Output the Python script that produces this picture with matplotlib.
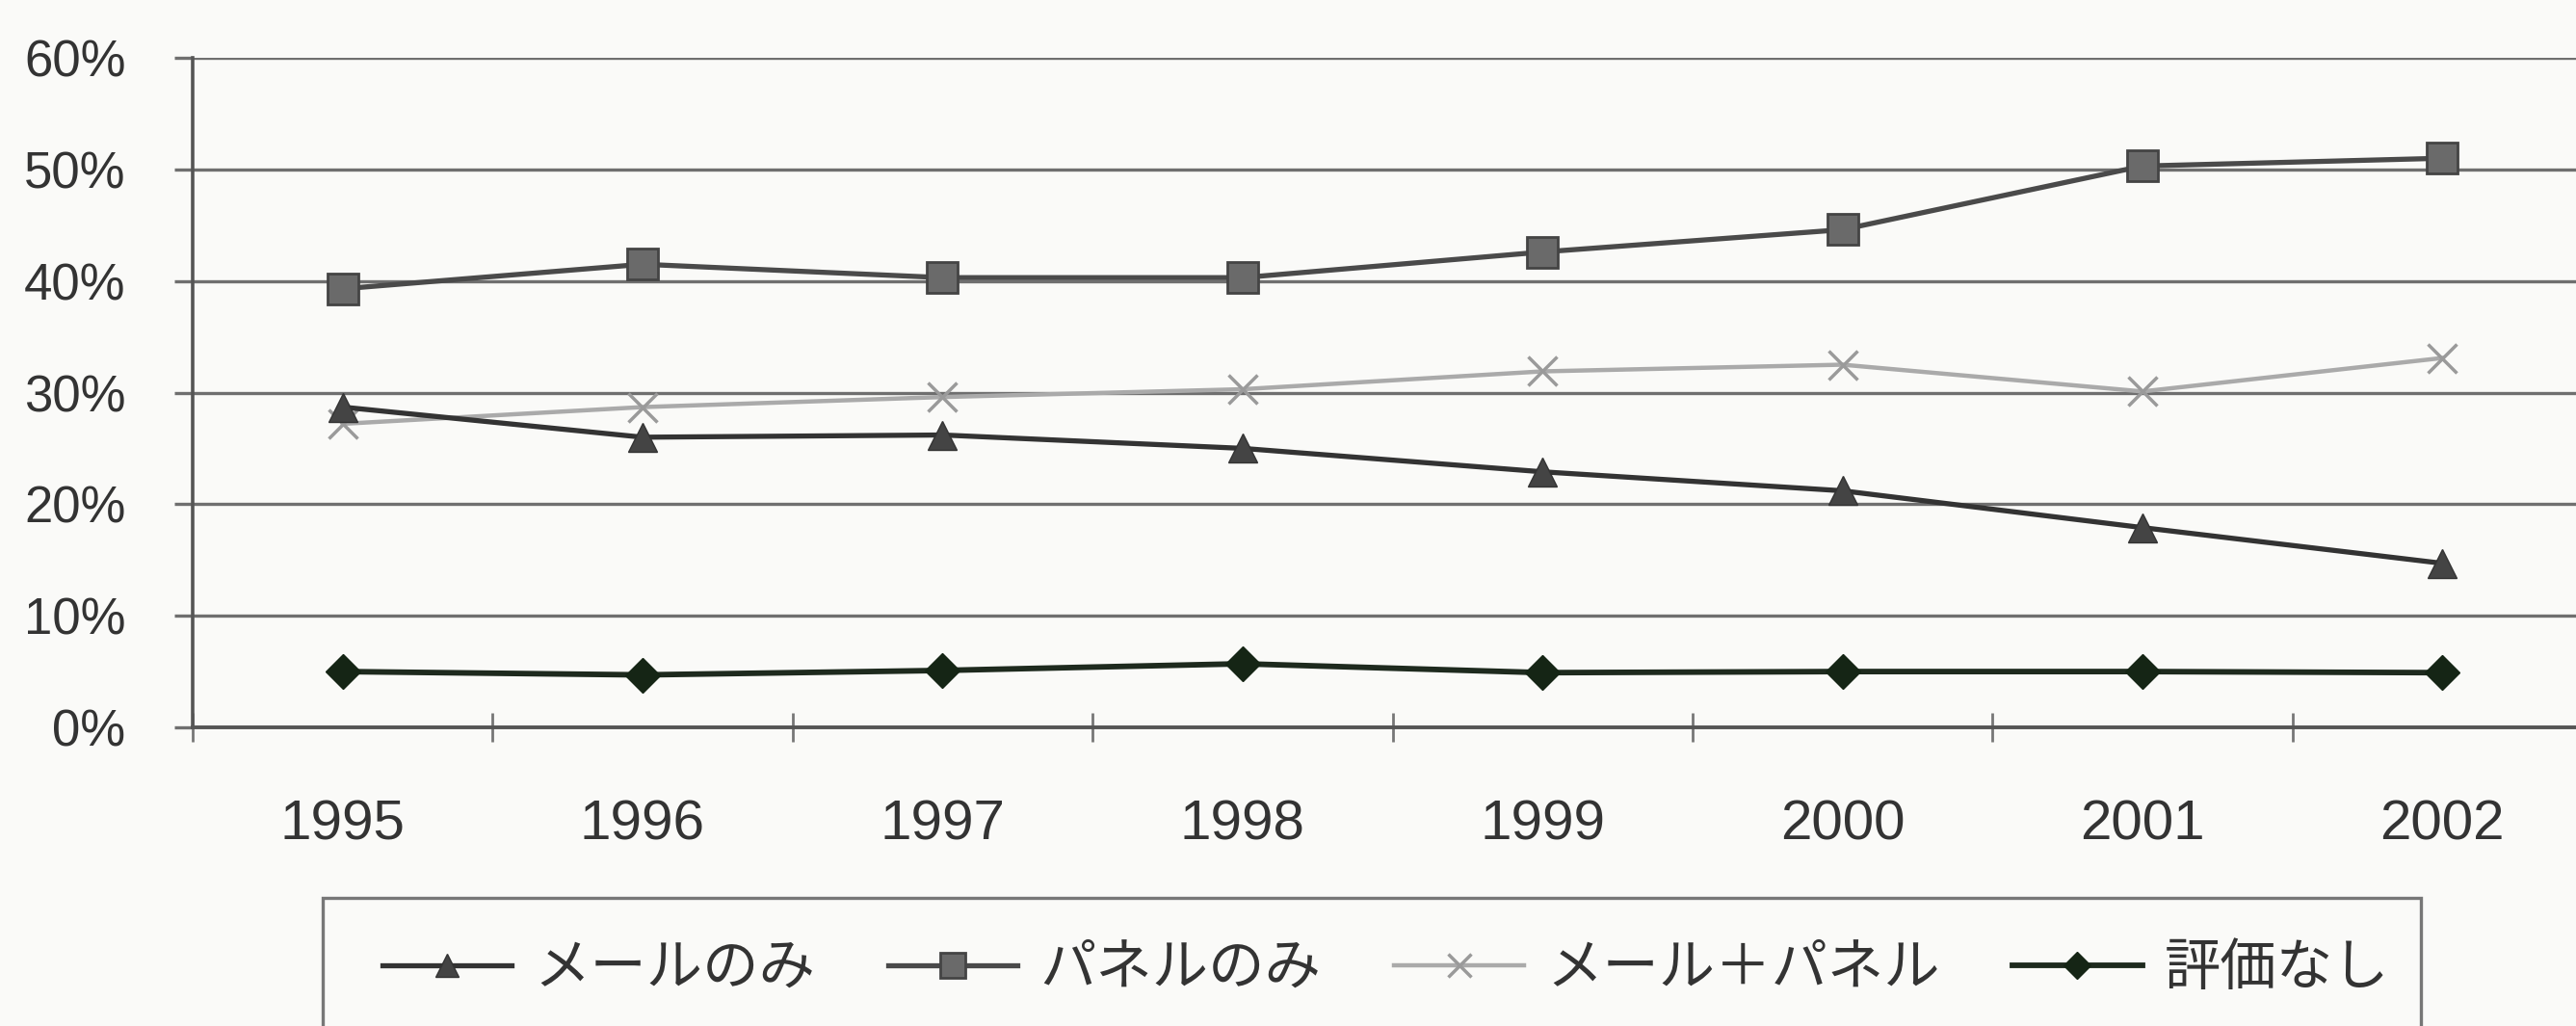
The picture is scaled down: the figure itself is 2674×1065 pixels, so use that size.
import numpy as np
import matplotlib
matplotlib.use("Agg")
import matplotlib.pyplot as plt
from matplotlib.patches import Rectangle
from matplotlib.ticker import FixedLocator, PercentFormatter

plt.rcParams['font.family'] = ['Liberation Sans', 'Noto Sans CJK JP', 'DejaVu Sans']

years = ['1995', '1996', '1997', '1998', '1999', '2000', '2001', '2002']
mail_only = [28.7, 26.0, 26.2, 25.0, 22.9, 21.2, 17.9, 14.7]
panel_only = [39.3, 41.5, 40.3, 40.3, 42.6, 44.6, 50.3, 51.0]
mail_panel = [27.2, 28.7, 29.6, 30.3, 31.9, 32.5, 30.1, 33.1]
no_eval = [5.0, 4.7, 5.1, 5.7, 4.9, 5.0, 5.0, 4.9]
labels = ['メールのみ', 'パネルのみ', 'メール＋パネル', '評価なし']

W, H = 2674, 1065
bg = '#fafaf8'
fig = plt.figure(figsize=(W / 100, H / 100), dpi=100, facecolor=bg)
ax = fig.add_axes([200 / W, 1 - 755 / H, 2491 / W, 695 / H])
ax.set_facecolor(bg)

x = np.arange(len(years))
ax.plot(x, mail_only, color='#333333', lw=3.8, marker='^', ms=21,
        mfc='#444444', mec='#333333', label=labels[0], zorder=4)
ax.plot(x, panel_only, color='#4a4a4a', lw=3.8, marker='s', ms=23,
        mfc='#6a6a6a', mec='#444444', mew=2, label=labels[1], zorder=4)
ax.plot(x, mail_panel, color='#aaaaaa', lw=3.2, marker='x', ms=22,
        mew=2.5, mec='#9a9a9a', label=labels[2], zorder=3)
ax.plot(x, no_eval, color='#1e2a1e', lw=4.2, marker='D', ms=18,
        mfc='#152515', mec='#152515', label=labels[3], zorder=4)

ax.set_xlim(-0.5, 7.5)
ax.set_ylim(0, 60)
ax.set_yticks(np.arange(0, 61, 10))
ax.yaxis.set_major_formatter(PercentFormatter(decimals=0))
ax.grid(axis='y', color='#6f6f6f', lw=2.4)
ax.set_axisbelow(True)

ax.set_xticks(x)
ax.set_xticklabels(years)
ax.xaxis.set_minor_locator(FixedLocator(np.arange(-0.5, 8, 1)))
ax.tick_params(axis='x', which='major', length=0, pad=54, labelsize=42, colors='#333333')
ax.tick_params(axis='x', which='minor', direction='inout', length=22, width=2, color='#777777')
ax.tick_params(axis='y', length=14, width=2.4, color='#6f6f6f', pad=36, labelsize=38,
               labelcolor='#333333')

for s in ['top', 'right']:
    ax.spines[s].set_visible(False)
ax.spines['left'].set_color('#555555')
ax.spines['left'].set_linewidth(2.6)
ax.spines['bottom'].set_color('#555555')
ax.spines['bottom'].set_linewidth(2.8)

# legend box drawn separately, it runs off the bottom of the page
fig.patches.append(Rectangle((335 / W, -0.05), (2513 - 335) / W, 0.05 + 1 - 932 / H,
                             transform=fig.transFigure, fill=False,
                             ec='#777777', lw=2.4))
leg = fig.legend(loc='center left', bbox_to_anchor=(397 / W, 1 - 1007 / H),
                 ncol=4, fontsize=42, frameon=False,
                 handlelength=2.3, handletextpad=0.4, columnspacing=1.3,
                 borderpad=0, borderaxespad=0, markerscale=0.8)
for t in leg.get_texts():
    t.set_color('#333333')

fig.savefig('out.png', dpi=100, facecolor=bg)
